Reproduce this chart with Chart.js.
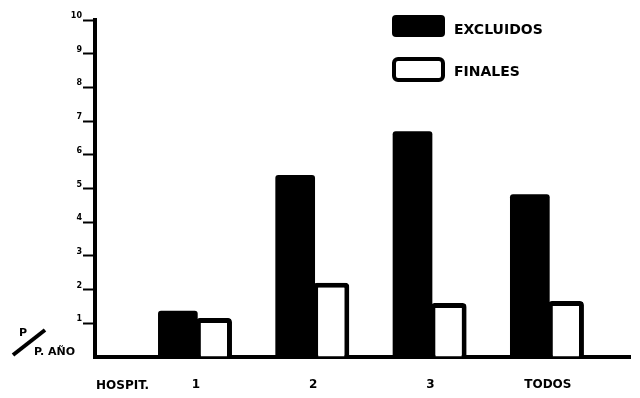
<!DOCTYPE html>
<html lang="es">
<head>
  <meta charset="utf-8">
  <title>Excluidos y finales por hospital</title>
  <script src="https://cdn.jsdelivr.net/npm/chart.js"></script>
  <style>
    html, body { margin: 0; padding: 0; background: #fff; }
  </style>
</head>
<body>
  <canvas id="hospitales" width="640" height="398"></canvas>

<script>
  // valores (P por P. año)
  const categorias = ['1', '2', '3', 'TODOS'];
  const excluidos = [1.37, 5.4, 6.7, 4.83];
  const finales = [1.16, 2.2, 1.6, 1.66];
  const ticksY = [0, 1, 2, 3, 4, 5, 6, 7, 8, 9, 10];
  const etiquetaHospital = 'HOSPIT.';
  const unidadArriba = 'P';
  const unidadAbajo = 'P. AÑO';

  const fuente = "'DejaVu Sans', sans-serif";

  // leyenda vertical, texto HOSPIT. y la unidad P / P. AÑO
  const extras = {
    id: 'extras',
    afterDraw(chart) {
      const ctx = chart.ctx;
      const area = chart.chartArea;
      ctx.save();
      ctx.fillStyle = '#000';
      ctx.strokeStyle = '#000';
      ctx.textBaseline = 'middle';
      ctx.textAlign = 'left';

      chart.data.datasets.forEach(function (ds, i) {
        const top = 15 + i * 42;
        ctx.beginPath();
        if (ds.backgroundColor === '#000') {
          ctx.roundRect(392, top, 53, 22, 4);
          ctx.fill();
        } else {
          ctx.lineWidth = 4;
          ctx.roundRect(394, top + 2, 49, 21, 4);
          ctx.stroke();
        }
        ctx.font = 'bold 14px ' + fuente;
        ctx.fillText(ds.label, 454, top + 15);
      });

      ctx.font = 'bold 12px ' + fuente;
      ctx.fillText(etiquetaHospital, area.left + 1, 386);

      ctx.font = 'bold 11px ' + fuente;
      ctx.fillText(unidadArriba, 19, 333);
      ctx.fillText(unidadAbajo, 34, 352);
      ctx.lineWidth = 4;
      ctx.beginPath();
      ctx.moveTo(13, 355);
      ctx.lineTo(45, 330);
      ctx.stroke();
      ctx.restore();
    }
  };

  const dados = {
    datasets: [{
      label: 'EXCLUIDOS',
      data: excluidos.map(function (v, i) { return { x: i + 1, y: v }; }),
      backgroundColor: '#000',
      borderColor: '#000',
      borderWidth: 0,
      barPercentage: 1.1,
      borderRadius: { topLeft: 3, topRight: 3 },
      borderSkipped: 'bottom'
    }, {
      label: 'FINALES',
      data: finales.map(function (v, i) { return { x: i + 1, y: v }; }),
      backgroundColor: '#fff',
      borderColor: '#000',
      borderWidth: 5,
      borderRadius: { topLeft: 4, topRight: 4 },
      borderSkipped: 'bottom'
    }]
  };

  const config = {
    type: 'bar',
    data: dados,
    plugins: [extras],
    options: {
      responsive: false,
      animation: false,
      categoryPercentage: 0.615,
      barPercentage: 1,
      layout: { padding: { top: 20, right: 10, bottom: 0, left: 0 } },
      plugins: {
        legend: { display: false },
        tooltip: { enabled: false }
      },
      scales: {
        x: {
          type: 'linear',
          offset: false,
          min: 0.14,
          max: 4.7,
          afterFit: function (scale) { scale.height = 41; },
          afterBuildTicks: function (scale) {
            scale.ticks = categorias.map(function (c, i) { return { value: i + 1 }; });
          },
          grid: { display: false, drawTicks: false, offset: false },
          border: { display: true, color: '#000', width: 4 },
          ticks: {
            autoSkip: false,
            maxRotation: 0,
            padding: 21,
            color: '#000',
            font: { family: fuente, size: 12, weight: 'bold' },
            callback: function (value) { return categorias[value - 1]; }
          }
        },
        y: {
          min: 0,
          max: 10,
          afterFit: function (scale) { scale.width = 95; },
          afterBuildTicks: function (scale) {
            scale.ticks = ticksY.map(function (v) { return { value: v }; });
          },
          grid: {
            drawOnChartArea: false,
            drawTicks: true,
            tickLength: 12,
            tickWidth: 2,
            tickColor: function (c) { return c.tick && c.tick.value === 0 ? 'rgba(0,0,0,0)' : '#000'; }
          },
          border: { display: true, color: '#000', width: 4 },
          ticks: {
            padding: 1,
            labelOffset: -4,
            color: '#000',
            font: { family: fuente, size: 8, weight: 'bold' },
            callback: function (value) { return value === 0 ? '' : value; }
          }
        }
      }
    }
  };

  let grafico = new Chart(document.getElementById('hospitales'), config);
</script>
</body>
</html>
